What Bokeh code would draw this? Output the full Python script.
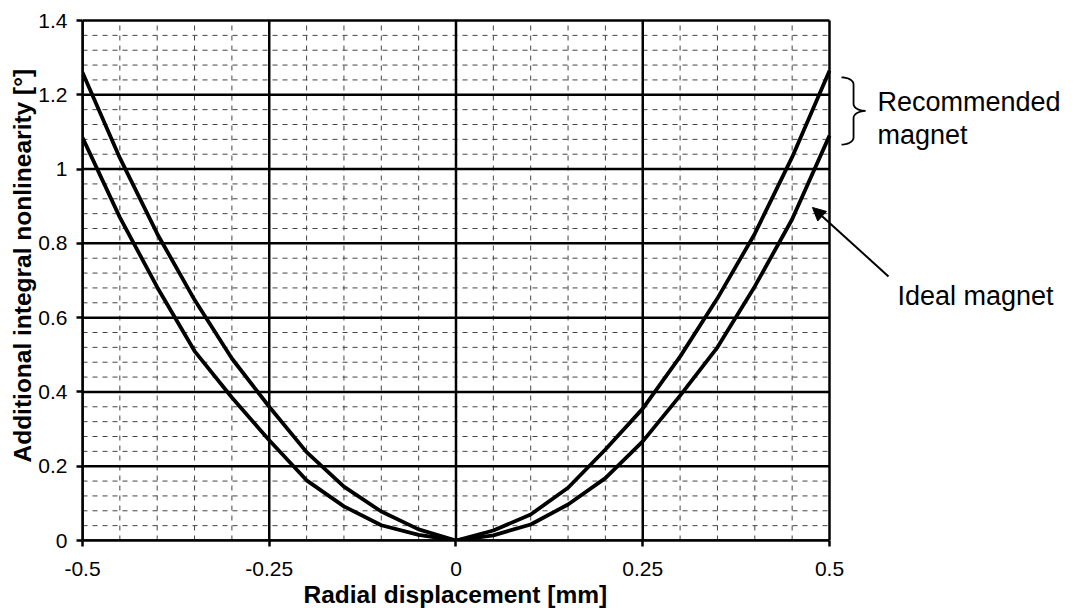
import numpy as np
from bokeh.plotting import figure
from bokeh.models import Range1d, FixedTicker, Label, Arrow, NormalHead, Title
from bokeh.embed import file_html
from bokeh.resources import INLINE

# ---------------- data ----------------
x_mm = [-0.5, -0.45, -0.4, -0.35, -0.3, -0.25, -0.2, -0.15, -0.1, -0.05, 0.0,
        0.05, 0.1, 0.15, 0.2, 0.25, 0.3, 0.35, 0.4, 0.45, 0.5]
recommended = [1.26, 1.03, 0.826, 0.648, 0.49, 0.36, 0.238, 0.145, 0.078, 0.03, 0.0,
               0.027, 0.07, 0.142, 0.245, 0.355, 0.495, 0.652, 0.826, 1.032, 1.265]
ideal = [1.085, 0.87, 0.682, 0.51, 0.385, 0.27, 0.162, 0.092, 0.041, 0.015, 0.0,
         0.014, 0.043, 0.097, 0.168, 0.267, 0.39, 0.52, 0.684, 0.865, 1.09]

x_ticks = [-0.5, -0.25, 0, 0.25, 0.5]
x_tick_labels = ["-0.5", "-0.25", "0", "0.25", "0.5"]
y_ticks = [0, 0.2, 0.4, 0.6, 0.8, 1, 1.2, 1.4]
y_tick_labels = ["0", "0.2", "0.4", "0.6", "0.8", "1", "1.2", "1.4"]
x_minor = [-0.45, -0.4, -0.35, -0.3, -0.2, -0.15, -0.1, -0.05,
           0.05, 0.1, 0.15, 0.2, 0.3, 0.35, 0.4, 0.45]
y_minor = [0.04, 0.08, 0.12, 0.16, 0.24, 0.28, 0.32, 0.36, 0.44, 0.48, 0.52, 0.56,
           0.64, 0.68, 0.72, 0.76, 0.84, 0.88, 0.92, 0.96, 1.04, 1.08, 1.12, 1.16,
           1.24, 1.28, 1.32, 1.36]

x_title = "Radial displacement [mm]"
y_title = "Additional integral nonlinearity [°]"
recommended_label = ["Recommended", "magnet"]
ideal_label = "Ideal magnet"

FONT = "Liberation Sans"

x_lo, x_hi = x_ticks[0], x_ticks[-1]
y_lo, y_hi = y_ticks[0], y_ticks[-1]

# ---------------- figure ----------------
# the frame extends to the right so that the annotations there are drawn
p = figure(width=1077, height=608,
           x_range=Range1d(x_lo, 0.832), y_range=Range1d(y_lo, 1.4054),
           output_backend="svg", toolbar_location=None,
           min_border_left=82, min_border_right=0,
           min_border_top=18, min_border_bottom=68)
p.background_fill_color = "white"
p.border_fill_color = "white"
p.outline_line_color = None
p.xgrid.visible = False
p.ygrid.visible = False

p.xaxis.ticker = FixedTicker(ticks=x_ticks)
p.yaxis.ticker = FixedTicker(ticks=y_ticks)
p.xaxis.major_label_overrides = dict(zip(x_ticks, x_tick_labels))
p.yaxis.major_label_overrides = dict(zip(y_ticks, y_tick_labels))
p.xaxis.bounds = (x_lo, x_hi)
p.yaxis.bounds = (y_lo, y_hi)

for ax in (p.xaxis, p.yaxis):
    ax.axis_line_color = "black"
    ax.axis_line_width = 2.5
    ax.major_tick_line_color = "black"
    ax.major_tick_line_width = 2.5
    ax.major_tick_out = 6
    ax.major_tick_in = 0
    ax.minor_tick_line_color = None
    ax.major_label_text_font = FONT
    ax.major_label_text_font_size = "21px"
    ax.major_label_text_color = "black"
p.xaxis.major_label_standoff = 15
p.yaxis.major_label_standoff = 9

# axis titles as side-panel titles (positioned relative to the frame edges)
p.add_layout(Title(text=x_title, align="left", offset=221, standoff=0,
                   text_font=FONT, text_font_size="24.5px", text_font_style="bold",
                   text_color="black"), "below")
p.add_layout(Title(text=y_title, align="left", offset=78, standoff=0,
                   text_font=FONT, text_font_size="24.5px", text_font_style="bold",
                   text_color="black"), "left")

# ---------------- grid (drawn over the data area only) ----------------
p.segment(x0=x_minor, y0=[y_lo] * len(x_minor), x1=x_minor, y1=[y_hi] * len(x_minor),
          line_color="#444444", line_width=1, line_dash="5 5")
p.segment(x0=[x_lo] * len(y_minor), y0=y_minor, x1=[x_hi] * len(y_minor), y1=y_minor,
          line_color="#444444", line_width=1, line_dash="5 5")
p.segment(x0=x_ticks, y0=[y_lo] * len(x_ticks), x1=x_ticks, y1=[y_hi] * len(x_ticks),
          line_color="black", line_width=2.5)
p.segment(x0=[x_lo] * len(y_ticks), y0=y_ticks, x1=[x_hi] * len(y_ticks), y1=y_ticks,
          line_color="black", line_width=2.5)

# ---------------- curves ----------------
p.line(x_mm, recommended, line_color="black", line_width=3.8)
p.line(x_mm, ideal, line_color="black", line_width=3.8)

# ---------------- annotations ----------------
x_end = x_mm[-1]
p.add_layout(Label(x=x_end + 0.0643, y=1.18, text=recommended_label[0],
                   text_align="left", text_baseline="alphabetic",
                   text_font=FONT, text_font_size="27px", text_color="black"))
p.add_layout(Label(x=x_end + 0.0643, y=1.093, text=recommended_label[1],
                   text_align="left", text_baseline="alphabetic",
                   text_font=FONT, text_font_size="27px", text_color="black"))
p.add_layout(Label(x=x_end + 0.091, y=0.657, text=ideal_label,
                   text_align="left", text_baseline="alphabetic",
                   text_font=FONT, text_font_size="27px", text_color="black"))

p.add_layout(Arrow(end=NormalHead(size=13, fill_color="black", line_color="black",
                                  line_width=1),
                   x_start=x_end + 0.079, y_start=0.711,
                   x_end=x_end - 0.0228, y_end=0.8966,
                   line_color="black", line_width=2))

# curly brace to the right of the curve ends
bx0 = x_end + 0.0161
ba = 0.0161
top = recommended[-1] - 0.018
bot = ideal[-1] - 0.024
mid = (top + bot) / 2
r = 0.0188
t = np.linspace(0, np.pi / 2, 8)
bxs = np.concatenate([bx0 + ba * np.sin(t),
                      bx0 + 2 * ba - ba * np.cos(t),
                      bx0 + 2 * ba - ba * np.cos(t[::-1]),
                      bx0 + ba * np.sin(t[::-1])])
bys = np.concatenate([top - r + r * np.cos(t),
                      mid + r - r * np.sin(t),
                      mid - r + r * np.sin(t[::-1]),
                      bot + r - r * np.cos(t[::-1])])
p.line(bxs, bys, line_color="black", line_width=1.8)

open("out.html", "w").write(file_html(p, INLINE))
